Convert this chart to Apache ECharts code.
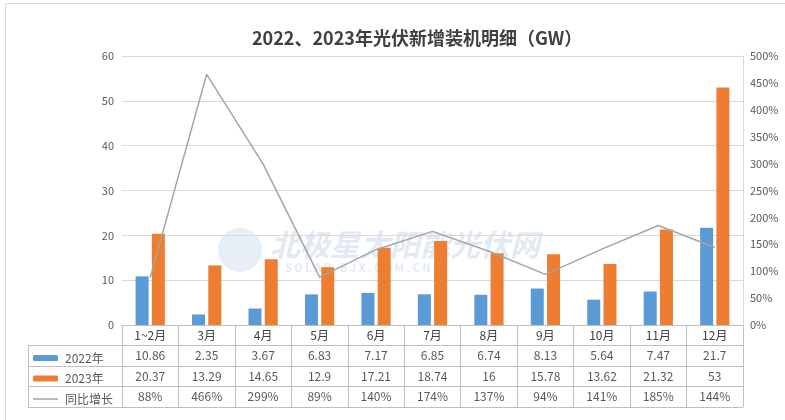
<!DOCTYPE html>
<html>
<head>
<meta charset="utf-8">
<script src="https://cdn.jsdelivr.net/npm/echarts@6/dist/echarts.min.js"></script>
<style>
html,body{margin:0;padding:0;background:#fff;}
#main{width:785px;height:420px;}
</style>
</head>
<body>
<div id="main"></div>
<script>
// ---- data ----
var categories = ['1~2月','3月','4月','5月','6月','7月','8月','9月','10月','11月','12月'];
var values2022 = [10.86, 2.35, 3.67, 6.83, 7.17, 6.85, 6.74, 8.13, 5.64, 7.47, 21.7];
var values2023 = [20.37, 13.29, 14.65, 12.9, 17.21, 18.74, 16, 15.78, 13.62, 21.32, 53];
var growth = [88, 466, 299, 89, 140, 174, 137, 94, 141, 185, 144];
var seriesNames = ['2022年', '2023年', '同比增长'];
var leftTicks = {min: 0, max: 60, interval: 10};
var rightTicks = {min: 0, max: 500, interval: 50};
var titleText = '2022、2023年光伏新增装机明细（GW）';

// ---- layout ----
var FONT = '"Noto Sans CJK SC", "Noto Sans", sans-serif';
var GL = 122, GR = 743, GT = 56, GB = 325;
var ROW = [20, 41, 61, 82]; // offsets of table row lines below the axis
var TXT = '#595959', LINE = '#BFBFBF', GRID = '#D9D9D9';

var chart = echarts.init(document.getElementById('main'), null, {renderer: 'canvas'});

function rowAxis(dataArr, offset, showLabel) {
  return {
    type: 'category', position: 'bottom', offset: offset, gridIndex: 0,
    data: dataArr,
    axisLine: {show: true, onZero: false, lineStyle: {color: LINE, width: 1}},
    axisTick: {show: false},
    axisLabel: {show: showLabel, interval: 0, margin: 4, color: TXT, fontSize: 12, fontFamily: FONT},
    splitLine: {show: false}
  };
}

var option = {
  animation: false,
  backgroundColor: '#fff',
  title: {
    text: titleText, left: 247, top: 24,
    textStyle: {fontSize: 18, fontWeight: 'bold', color: '#404040', fontFamily: FONT}
  },
  legend: {
    orient: 'vertical', left: 28, top: 346, itemGap: 6.5,
    itemWidth: 25, itemHeight: 6,
    textStyle: {color: TXT, fontSize: 12, fontFamily: FONT, lineHeight: 14, padding: [0, 0, 0, 2]},
    data: [
      {name: seriesNames[0]},
      {name: seriesNames[1]},
      {name: seriesNames[2], icon: 'path://M0,0 L25,0 L25,1.5 L0,1.5 Z'}
    ]
  },
  grid: {left: GL, right: 785 - GR, top: GT, bottom: 420 - GB, containLabel: false},
  xAxis: [
    {
      type: 'category', data: categories, position: 'bottom',
      axisLine: {show: true, onZero: false, lineStyle: {color: LINE}},
      axisTick: {show: true, length: ROW[3], lineStyle: {color: LINE}},
      axisLabel: {interval: 0, margin: 4, color: '#404040', fontSize: 12, fontFamily: FONT},
      splitLine: {show: false}
    },
    rowAxis(values2022.map(String), ROW[0], true),
    rowAxis(values2023.map(String), ROW[1], true),
    rowAxis(growth.map(function (v) { return v + '%'; }), ROW[2], true),
    rowAxis(categories.map(function () { return ''; }), ROW[3], false)
  ],
  yAxis: [
    {
      type: 'value', min: leftTicks.min, max: leftTicks.max, interval: leftTicks.interval,
      axisLine: {show: false}, axisTick: {show: false},
      axisLabel: {color: TXT, fontSize: 11, fontFamily: FONT, margin: 8},
      splitLine: {lineStyle: {color: GRID}}
    },
    {
      type: 'value', min: rightTicks.min, max: rightTicks.max, interval: rightTicks.interval,
      axisLine: {show: true, lineStyle: {color: GRID}}, axisTick: {show: false},
      axisLabel: {color: TXT, fontSize: 11, fontFamily: FONT, margin: 7, formatter: '{value}%'},
      splitLine: {show: false}
    }
  ],
  graphic: [
    {type: 'rect', shape: {x: 5.5, y: 3.5, width: 820, height: 450}, style: {fill: 'none', stroke: '#D9D9D9', lineWidth: 1}, silent: true},
    {type: 'text', left: 270, top: 230, z: 0, silent: true,
      style: {text: '北极星太阳能光伏网', fill: 'rgba(120,160,200,0.22)', font: 'italic bold 30px ' + FONT}},
    {type: 'text', left: 285, top: 262, z: 0, silent: true,
      style: {text: 'S O L A R . B J X . C O M . C N', fill: 'rgba(120,160,200,0.22)', font: 'bold 11px ' + FONT}},
    {type: 'circle', shape: {cx: 240, cy: 250, r: 22}, z: 0, silent: true, style: {fill: 'rgba(120,160,200,0.18)'}},
    // left column of the table
    {type: 'line', shape: {x1: 28, y1: GB + ROW[0] + 0.5, x2: GL, y2: GB + ROW[0] + 0.5}, style: {stroke: LINE, lineWidth: 1}, silent: true},
    {type: 'line', shape: {x1: 28, y1: GB + ROW[1] + 0.5, x2: GL, y2: GB + ROW[1] + 0.5}, style: {stroke: LINE, lineWidth: 1}, silent: true},
    {type: 'line', shape: {x1: 28, y1: GB + ROW[2] + 0.5, x2: GL, y2: GB + ROW[2] + 0.5}, style: {stroke: LINE, lineWidth: 1}, silent: true},
    {type: 'line', shape: {x1: 28, y1: GB + ROW[3] + 0.5, x2: GL, y2: GB + ROW[3] + 0.5}, style: {stroke: LINE, lineWidth: 1}, silent: true},
    {type: 'line', shape: {x1: 28.5, y1: GB + ROW[0], x2: 28.5, y2: GB + ROW[3] + 1}, style: {stroke: LINE, lineWidth: 1}, silent: true}
  ],
  series: [
    {name: seriesNames[0], type: 'bar', data: values2022, xAxisIndex: 0, yAxisIndex: 0,
      barWidth: 13, barGap: '25%', itemStyle: {color: '#5B9BD5'}, z: 2},
    {name: seriesNames[1], type: 'bar', data: values2023, xAxisIndex: 0, yAxisIndex: 0,
      barWidth: 13, barGap: '25%', itemStyle: {color: '#ED7D31'}, z: 2},
    {name: seriesNames[2], type: 'line', data: growth, xAxisIndex: 0, yAxisIndex: 1,
      symbol: 'none', showSymbol: false, lineStyle: {color: '#A5A5A5', width: 1.5}, itemStyle: {color: '#A5A5A5'}, z: 3}
  ]
};
chart.setOption(option);
</script>
</body>
</html>
